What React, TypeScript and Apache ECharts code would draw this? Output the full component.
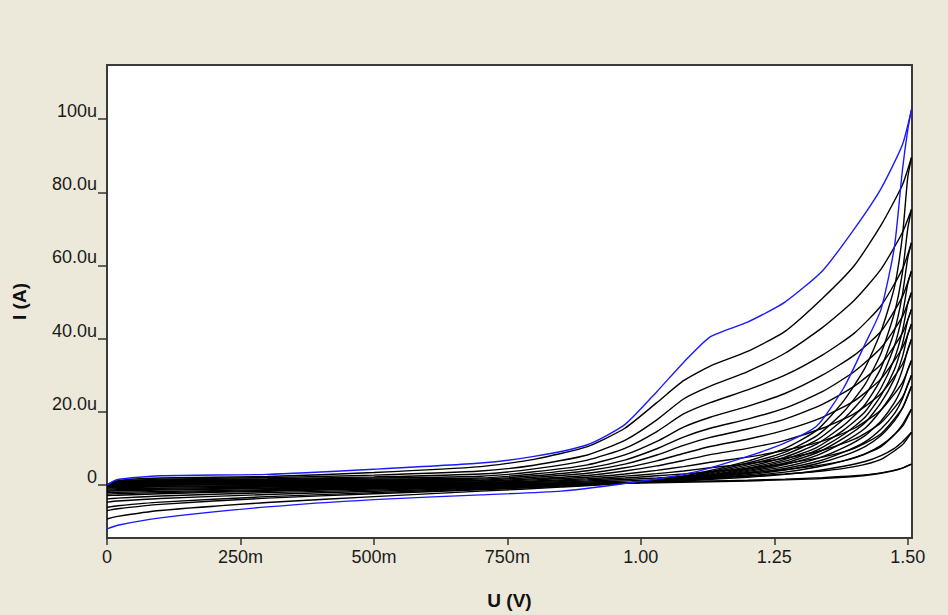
import React, { useEffect, useRef } from "react";
import * as echarts from "echarts";

// Voltage grids (V)
const V_UP = [0, 0.02, 0.1, 0.3, 0.5, 0.7, 0.8, 0.9, 0.97, 1.03, 1.08, 1.13, 1.2, 1.27, 1.34, 1.4, 1.45, 1.49, 1.507];
const V_DOWN = [1.507, 1.5, 1.49, 1.475, 1.45, 1.42, 1.38, 1.33, 1.27, 1.2, 1.1, 1.0, 0.85, 0.7, 0.5, 0.3, 0.1, 0.02, 0];

// Currents (uA) – blue loop
const blueUp = [0, 1.5, 2.5, 2.9, 4.3, 6.0, 7.8, 11.0, 16.5, 25.5, 33.5, 40.5, 44.5, 50, 58.5, 70, 81, 93, 102.6];
const blueDown = [102.6, 97, 86, 65, 48, 38.5, 26.5, 16.2, 11.5, 7.8, 3.5, 1.0, -1.7, -2.7, -4.0, -6.0, -9.0, -11, -12];

// Black loops – forward sweep (uA)
const c1Up = [0, 1.2, 1.9, 2.3, 3.4, 5.0, 7.0, 10.5, 15.5, 22.5, 28.5, 32.5, 36.5, 42, 51, 60, 71, 82, 89.5];
const c2Up = [0, 1.0, 1.6, 2.0, 2.7, 3.8, 5.4, 8.2, 12.2, 17.8, 23.5, 27, 31, 36, 43, 50.5, 59, 69, 75.3];
const c3Up = [0, 0.9, 1.4, 1.7, 2.2, 3.0, 4.4, 6.8, 10.0, 14.6, 19.4, 22.5, 26, 30, 35.5, 41.5, 49, 59, 66.2];
const c4Up = [0, 0.8, 1.2, 1.5, 1.9, 2.4, 3.6, 5.5, 8.2, 11.9, 15.8, 18.5, 21.5, 25, 30, 35.5, 42, 51.5, 58.5];
const c5Up = [0, 0.7, 1.0, 1.3, 1.6, 1.9, 3.0, 4.6, 6.8, 9.9, 13.1, 15.5, 18, 21, 25.5, 31, 37.5, 46, 52.6];
const c6Up = [0, 0.6, 0.9, 1.1, 1.4, 1.6, 2.5, 3.9, 5.7, 8.2, 10.8, 13, 15.3, 18, 22, 27, 33, 41.5, 48];
const c7Up = [0, 0.5, 0.8, 1.0, 1.2, 1.3, 2.1, 3.2, 4.7, 6.6, 8.6, 10.5, 12.5, 15, 18.5, 23, 29, 37.5, 44];
const c8Up = [0, 0.5, 0.7, 0.9, 1.0, 1.1, 1.7, 2.6, 3.8, 5.2, 6.7, 8.3, 10, 12.2, 15.5, 19.5, 25, 33, 39.8];
const c9Up = [0, 0.4, 0.6, 0.7, 0.8, 0.9, 1.4, 2.1, 3.0, 4.0, 5.0, 6.2, 7.6, 9.5, 12, 15.5, 20.5, 28, 34];
const c10Up = [0, 0.3, 0.5, 0.6, 0.7, 0.7, 1.1, 1.7, 2.4, 3.1, 3.8, 4.7, 5.8, 7.3, 9.5, 12.5, 17, 24, 30];
const c11Up = [0, 0.3, 0.4, 0.5, 0.5, 0.55, 0.9, 1.4, 1.9, 2.5, 3.0, 3.6, 4.5, 5.8, 7.6, 10, 14, 21, 27];
const c12Up = [0, 0.2, 0.3, 0.4, 0.4, 0.4, 0.7, 1.1, 1.5, 1.9, 2.3, 2.7, 3.3, 4.2, 5.5, 7.4, 10.5, 16, 20.7];
const c13Up = [0, 0.2, 0.2, 0.3, 0.3, 0.3, 0.5, 0.8, 1.1, 1.4, 1.7, 2.0, 2.4, 3.0, 3.8, 5, 7, 11, 14.4];
const c14Up = [0, 0.1, 0.1, 0.2, 0.2, 0.2, 0.3, 0.5, 0.6, 0.8, 1.0, 1.1, 1.3, 1.6, 2.0, 2.5, 3.3, 4.6, 5.7];

// Black loops – reverse sweep (uA)
const c1Down = [89.5, 84, 68, 54, 42, 32, 23, 15, 10, 6.5, 3, 0.8, -0.6, -1.7, -3.2, -4.8, -7, -8.6, -9.3];
const c2Down = [75.3, 70, 58, 47, 36, 27.5, 20, 13.5, 9, 6, 2.7, 0.8, -0.4, -1.3, -2.4, -3.6, -5.3, -6.5, -7];
const c3Down = [66.2, 62, 52, 42, 32, 24.5, 18, 12.3, 8.3, 5.5, 2.5, 0.8, -0.3, -1.1, -2.1, -3.2, -4.7, -5.7, -6.1];
const c4Down = [58.5, 55, 46.5, 38, 29, 22, 16.3, 11.2, 7.6, 5.0, 2.3, 0.7, -0.2, -0.9, -1.7, -2.6, -3.7, -4.4, -4.7];
const c5Down = [52.6, 49.5, 42, 34.5, 26.5, 20, 15, 10.3, 7, 4.6, 2.1, 0.7, -0.1, -0.7, -1.4, -2.1, -3.0, -3.6, -3.8];
const c6Down = [48, 45, 38.5, 31.5, 24.5, 18.5, 13.8, 9.5, 6.5, 4.3, 2.0, 0.7, 0, -0.6, -1.1, -1.7, -2.4, -2.8, -2.9];
const c7Down = [44, 41, 35, 29, 22.5, 17, 12.8, 8.8, 6, 4, 1.9, 0.7, 0.05, -0.5, -1.0, -1.5, -2.1, -2.4, -2.5];
const c8Down = [39.8, 37, 31.5, 26, 20.5, 15.5, 11.7, 8.1, 5.6, 3.7, 1.8, 0.7, 0.1, -0.4, -0.8, -1.3, -1.8, -2.0, -2.1];
const c9Down = [34, 31.5, 27, 22.5, 17.5, 13.5, 10.2, 7.2, 5, 3.4, 1.7, 0.7, 0.15, -0.3, -0.7, -1.0, -1.4, -1.6, -1.7];
const c10Down = [30, 27.5, 23.5, 19.5, 15.3, 11.8, 9, 6.4, 4.5, 3.1, 1.6, 0.7, 0.2, -0.2, -0.5, -0.8, -1.2, -1.3, -1.4];
const c11Down = [27, 24.5, 21, 17.5, 13.5, 10.5, 8, 5.8, 4.1, 2.8, 1.5, 0.7, 0.2, -0.1, -0.4, -0.6, -0.9, -1.0, -1.1];
const c12Down = [20.7, 19, 16.5, 13.8, 10.8, 8.5, 6.6, 4.9, 3.5, 2.5, 1.4, 0.7, 0.3, 0, -0.3, -0.4, -0.6, -0.7, -0.8];
const c13Down = [14.4, 13.3, 11.8, 10, 8, 6.4, 5.1, 3.9, 2.9, 2.1, 1.3, 0.7, 0.3, 0.1, -0.1, -0.2, -0.4, -0.5, -0.5];
const c14Down = [5.7, 5.3, 4.6, 3.9, 3.2, 2.6, 2.1, 1.7, 1.4, 1.1, 0.8, 0.5, 0.3, 0.2, 0.1, 0, -0.1, -0.2, -0.2];

const blackUp = [c1Up, c2Up, c3Up, c4Up, c5Up, c6Up, c7Up, c8Up, c9Up, c10Up, c11Up, c12Up, c13Up, c14Up];
const blackDown = [c1Down, c2Down, c3Down, c4Down, c5Down, c6Down, c7Down, c8Down, c9Down, c10Down, c11Down, c12Down, c13Down, c14Down];

// Tick labels
const xTickValues = [0, 0.25, 0.5, 0.75, 1.0, 1.25, 1.5];
const xTickLabels = ["0", "250m", "500m", "750m", "1.00", "1.25", "1.50"];
const yTickValues = [0, 20, 40, 60, 80, 100];
const yTickLabels = ["0", "20.0u", "40.0u", "60.0u", "80.0u", "100u"];

const lookup = (vals: number[], labels: string[]) => (v: number) => {
  let best = 0;
  for (let i = 1; i < vals.length; i++) {
    if (Math.abs(vals[i] - v) < Math.abs(vals[best] - v)) best = i;
  }
  return labels[best];
};

export default function App() {
  const ref = useRef<HTMLDivElement>(null);
  useEffect(() => {
    if (!ref.current) return;
    const chart = echarts.init(ref.current, null, { renderer: "svg" });
    const pair = (xs: number[], ys: number[]) => xs.map((x, i) => [x, ys[i]]);
    const lineBase = {
      type: "line",
      showSymbol: false,
      smooth: 0.2,
      silent: true,
    };
    const series: any[] = [];
    blackUp.forEach((ys, i) => {
      series.push({ ...lineBase, name: "up" + i, data: pair(V_UP, ys), lineStyle: { color: "#000", width: 1.4 } });
      series.push({ ...lineBase, name: "down" + i, data: pair(V_DOWN, blackDown[i]), lineStyle: { color: "#000", width: 1.4 } });
    });
    series.push({ ...lineBase, name: "blueUp", data: pair(V_UP, blueUp), lineStyle: { color: "#1a1aff", width: 1.4 } });
    series.push({ ...lineBase, name: "blueDown", data: pair(V_DOWN, blueDown), lineStyle: { color: "#1a1aff", width: 1.4 } });

    chart.setOption({
      animation: false,
      backgroundColor: "#ECE9DA",
      grid: {
        left: 107,
        top: 65,
        width: 805,
        height: 474,
        show: true,
        backgroundColor: "#ffffff",
        borderColor: "#3a3a3a",
        borderWidth: 2,
      },
      xAxis: {
        type: "value",
        min: 0,
        max: 1.508,
        name: "U (V)",
        nameLocation: "middle",
        nameGap: 53,
        nameTextStyle: { fontFamily: "Liberation Sans", fontSize: 19, fontWeight: "bold", color: "#111" },
        axisLine: { show: true, onZero: false, lineStyle: { color: "#3a3a3a", width: 2 } },
        axisTick: { show: true, customValues: xTickValues, length: 7, lineStyle: { color: "#333", width: 1.5 } },
        axisLabel: {
          customValues: xTickValues,
          formatter: lookup(xTickValues, xTickLabels),
          fontFamily: "Liberation Sans",
          fontSize: 18,
          color: "#1a1a1a",
          margin: 10,
        },
        splitLine: { show: false },
      },
      yAxis: {
        type: "value",
        min: -14.5,
        max: 114.8,
        name: "I (A)",
        nameLocation: "middle",
        nameGap: 78,
        nameRotate: 90,
        nameTextStyle: { fontFamily: "Liberation Sans", fontSize: 19, fontWeight: "bold", color: "#111" },
        axisLine: { show: true, onZero: false, lineStyle: { color: "#3a3a3a", width: 2 } },
        axisTick: { show: true, customValues: yTickValues, length: 9, lineStyle: { color: "#333", width: 1.5 } },
        axisLabel: {
          customValues: yTickValues,
          formatter: lookup(yTickValues, yTickLabels),
          fontFamily: "Liberation Sans",
          fontSize: 18,
          color: "#1a1a1a",
          margin: 10,
          verticalAlign: "bottom",
          lineHeight: 16,
        },
        splitLine: { show: false },
      },
      series,
    });
    return () => chart.dispose();
  }, []);
  return (
    <div
      ref={ref}
      style={{ position: "fixed", left: 0, top: 0, width: 948, height: 615 }}
    />
  );
}
